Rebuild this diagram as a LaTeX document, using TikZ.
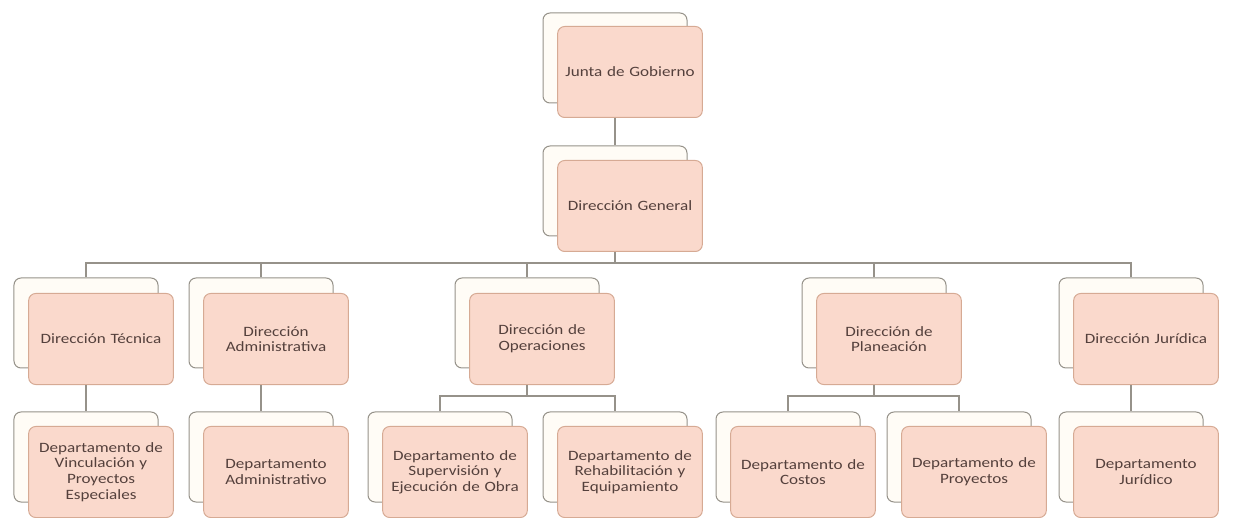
\documentclass[tikz,border=0pt]{standalone}
\usepackage{fontspec}
\setmainfont[FakeStretch=1.2]{Carlito}
\usepackage{tikz}
\usetikzlibrary{calc}

\definecolor{boxfill}{RGB}{250,217,204}
\definecolor{boxline}{RGB}{214,170,148}
\definecolor{backfill}{RGB}{255,252,246}
\definecolor{backline}{RGB}{150,146,138}
\definecolor{boxtext}{RGB}{84,64,60}

\begin{document}
\begin{tikzpicture}[x=1bp, y=-1bp, line width=1bp,
        back_style/.style={rectangle,rounded corners=7bp,draw=backline,fill=backfill,
            minimum width=144bp,minimum height=90bp,inner sep=0pt},
        node_style/.style={rectangle,rounded corners=7bp,draw=boxline,fill=boxfill,
            minimum width=144bp,minimum height=91bp,text width=138bp,align=center,
            text=boxtext,font=\fontsize{14.3}{15.7}\selectfont},
        edge_style/.style={draw=backline, line width=1.2bp}]

        \useasboundingbox (0,0) rectangle (1237,518);

        % bus lines
        \coordinate (bus1) at (0,263);
        \coordinate (bus2) at (0,396);

        % first level
        \node [back_style](b1) at (615,58) {};
        \node [node_style](n1) at (630,72) {Junta de Gobierno};

        \node [back_style](b2) at (615,191) {};
        \node [node_style](n2) at (630,206) {Dirección General};

        % directions
        \node [back_style](b3) at (86,323) {};
        \node [node_style](n3) at (101,339) {Dirección Técnica};

        \node [back_style](b4) at (261,323) {};
        \node [node_style](n4) at (276,339) {Dirección\\Administrativa};

        \node [back_style](b5) at (527,323) {};
        \node [node_style](n5) at (542,339) {Dirección de\\Operaciones};

        \node [back_style](b6) at (874,323) {};
        \node [node_style](n6) at (889,339) {Dirección de\\Planeación};

        \node [back_style](b7) at (1131,323) {};
        \node [node_style](n7) at (1146,339) {Dirección Jurídica};

        % departments
        \node [back_style](b8) at (86,457) {};
        \node [node_style](n8) at (101,472) {Departamento de\\Vinculación y\\Proyectos\\Especiales};

        \node [back_style](b9) at (261,457) {};
        \node [node_style](n9) at (276,472) {Departamento\\Administrativo};

        \node [back_style](b10) at (440,457) {};
        \node [node_style](n10) at (455,472) {Departamento de\\Supervisión y\\Ejecución de Obra};

        \node [back_style](b11) at (615,457) {};
        \node [node_style](n11) at (630,472) {Departamento de\\Rehabilitación y\\Equipamiento};

        \node [back_style](b12) at (788,457) {};
        \node [node_style](n12) at (803,472) {Departamento de\\Costos};

        \node [back_style](b13) at (959,457) {};
        \node [node_style](n13) at (974,472) {Departamento de\\Proyectos};

        \node [back_style](b14) at (1131,457) {};
        \node [node_style](n14) at (1146,472) {Departamento\\Jurídico};

        \draw [edge_style] (b1 |- n1.south) -- (b2.north);

        \draw [edge_style] (b2 |- n2.south) -- (b2 |- bus1) -| (b3.north);
        \draw [edge_style] (b2 |- bus1) -| (b4.north);
        \draw [edge_style] (b2 |- bus1) -| (b5.north);
        \draw [edge_style] (b2 |- bus1) -| (b6.north);
        \draw [edge_style] (b2 |- bus1) -| (b7.north);

        \draw [edge_style] (b3 |- n3.south) -- (b8.north);
        \draw [edge_style] (b4 |- n4.south) -- (b9.north);

        \draw [edge_style] (b5 |- n5.south) -- (b5 |- bus2) -| (b10.north);
        \draw [edge_style] (b5 |- bus2) -| (b11.north);

        \draw [edge_style] (b6 |- n6.south) -- (b6 |- bus2) -| (b12.north);
        \draw [edge_style] (b6 |- bus2) -| (b13.north);

        \draw [edge_style] (b7 |- n7.south) -- (b14.north);

        \end{tikzpicture}
\end{document}
